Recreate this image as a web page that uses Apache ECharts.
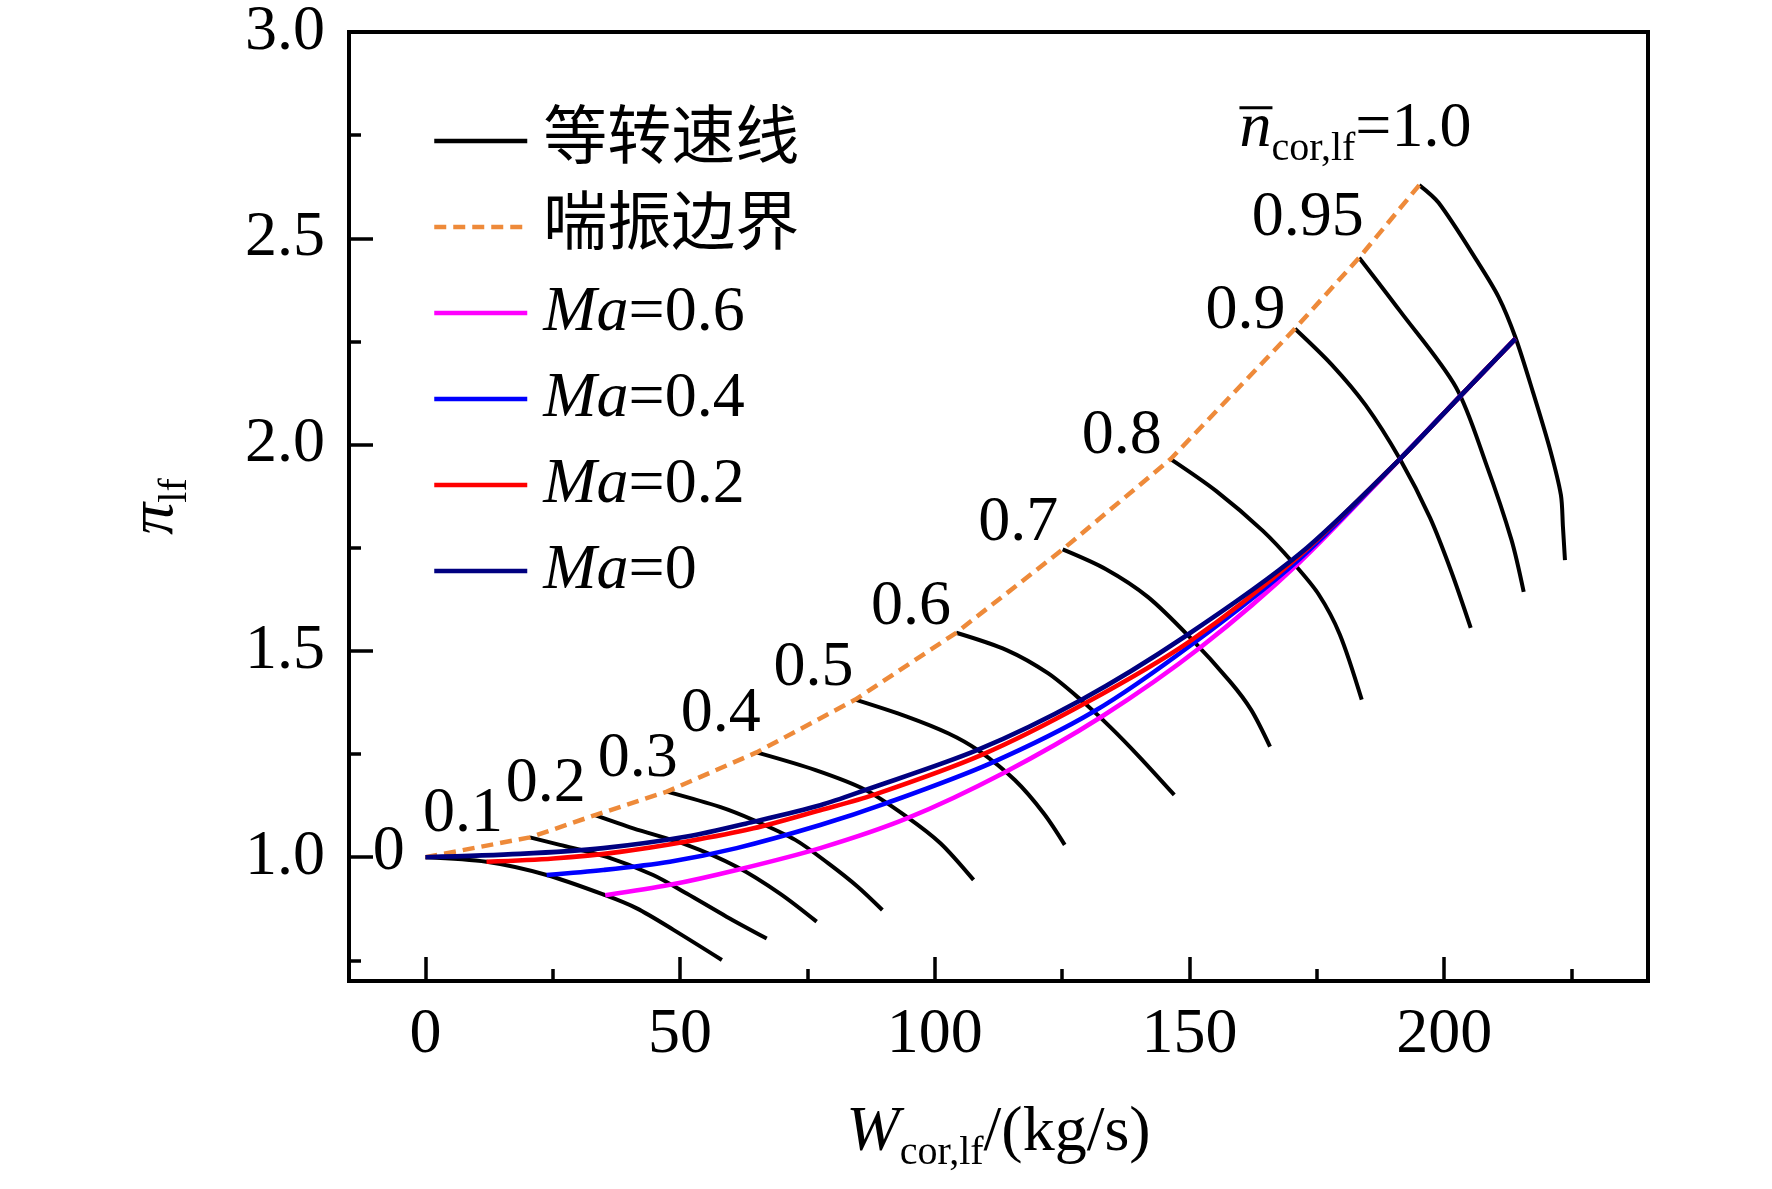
<!DOCTYPE html>
<html>
<head>
<meta charset="utf-8">
<script src="https://cdn.jsdelivr.net/npm/echarts@6/dist/echarts.min.js"></script>
<style>
html, body { margin: 0; padding: 0; background: #fff; }
#main { width: 1772px; height: 1189px; }
</style>
</head>
<body>
<div id="main"></div>
<script>
// corrected speed lines
var speedLevels = ['0', '0.1', '0.2', '0.3', '0.4', '0.5', '0.6', '0.7', '0.8', '0.9', '0.95', '1.0'];
var speedW = [
	[0, 12.0, 23.8, 35.3, 41.5, 48.7, 58.2],
	[20.5, 26.4, 35.6, 44.7, 51.3, 59.1, 67.0],
	[33.3, 40.8, 51.3, 61.1, 69.6, 76.8],
	[47.4, 57.8, 64.4, 72.6, 79.1, 84.8, 89.7],
	[65.0, 76.6, 86.4, 94.5, 101.1, 107.6],
	[84.4, 94.5, 102.7, 108.4, 115.7, 121.4, 125.5],
	[104.2, 114.1, 122.2, 128.7, 134.4, 140.1, 147.0],
	[125.1, 133.6, 141.8, 149.9, 158.0, 162.1, 165.8],
	[146.3, 155.2, 164.4, 170.3, 175.3, 179.5, 183.8],
	[170.7, 177.9, 184.6, 191.3, 197.2, 201.4, 205.2],
	[183.3, 191.3, 202.3, 208.2, 213.2, 215.6],
	[195.1, 198.9, 206.5, 210.7, 214.0, 217.4, 220.8, 222.9, 223.3, 223.7]
];
var speedPi = [
	[1.000, 0.989, 0.957, 0.908, 0.876, 0.824, 0.751],
	[1.048, 1.030, 1.001, 0.957, 0.912, 0.856, 0.803],
	[1.102, 1.070, 1.030, 0.977, 0.912, 0.844],
	[1.159, 1.122, 1.090, 1.042, 0.985, 0.929, 0.872],
	[1.254, 1.211, 1.163, 1.098, 1.034, 0.945],
	[1.382, 1.341, 1.300, 1.260, 1.187, 1.106, 1.030],
	[1.544, 1.502, 1.446, 1.381, 1.316, 1.244, 1.151],
	[1.746, 1.698, 1.631, 1.535, 1.425, 1.357, 1.268],
	[1.965, 1.888, 1.791, 1.714, 1.638, 1.540, 1.382],
	[2.281, 2.194, 2.095, 1.965, 1.823, 1.692, 1.556],
	[2.453, 2.324, 2.139, 1.954, 1.769, 1.643],
	[2.629, 2.586, 2.444, 2.357, 2.259, 2.128, 1.987, 1.878, 1.801, 1.720]
];

// surge boundary
var surgeW = [0, 20.5, 33.3, 47.4, 65.0, 84.4, 104.2, 125.1, 146.3, 170.7, 183.3, 195.1];
var surgePi = [1.000, 1.048, 1.102, 1.159, 1.254, 1.382, 1.544, 1.746, 1.965, 2.281, 2.453, 2.629];

// working lines for each flight Mach number
var ma06W = [35.3, 48.0, 61.1, 77.5, 94.5, 113.3, 132.8, 152.3, 171.7, 191.3, 203.1, 214.0];
var ma06Pi = [0.908, 0.933, 0.969, 1.022, 1.094, 1.203, 1.341, 1.510, 1.716, 1.965, 2.117, 2.257];
var ma04W = [23.8, 34.9, 48.0, 61.1, 77.5, 90.5, 110.8, 131.2, 150.7, 171.7, 191.3, 203.1, 214.0];
var ma04Pi = [0.957, 0.969, 0.989, 1.022, 1.078, 1.131, 1.227, 1.353, 1.518, 1.724, 1.965, 2.117, 2.257];
var ma02W = [12.0, 25.1, 38.2, 51.3, 64.4, 77.5, 88.0, 109.2, 129.5, 149.9, 171.7, 191.3, 203.1, 214.0];
var ma02Pi = [0.989, 0.997, 1.013, 1.038, 1.070, 1.114, 1.151, 1.248, 1.373, 1.522, 1.732, 1.965, 2.117, 2.257];
var ma0W = [0, 18.6, 34.9, 51.3, 64.4, 77.5, 86.4, 108.4, 128.7, 149.1, 171.7, 191.3, 203.1, 214.0];
var ma0Pi = [1.000, 1.008, 1.022, 1.050, 1.086, 1.126, 1.163, 1.260, 1.381, 1.535, 1.736, 1.965, 2.117, 2.257];

// speed labels (text and where they sit, in axis units)
var labelText = ['0', '0.1', '0.2', '0.3', '0.4', '0.5', '0.6', '0.7', '0.8', '0.9', '0.95'];
var labelW = [-7.2, 7.4, 23.6, 41.7, 58.0, 76.2, 95.3, 116.4, 136.7, 161.0, 173.2];
var labelPi = [1.013, 1.105, 1.177, 1.238, 1.347, 1.458, 1.605, 1.810, 2.020, 2.323, 2.548];
var topLabelW = 159.8;
var topLabelPi = 2.820;

var xMajor = [0, 50, 100, 150, 200];
var xMinor = [25, 75, 125, 175, 225];
var yMajor = [1.0, 1.5, 2.0, 2.5, 3.0];
var yMinor = [0.75, 1.25, 1.75, 2.25, 2.75];

var SERIF = 'Liberation Serif';
var MIXED = '"Liberation Serif", "Noto Sans CJK SC"';
var ORANGE = '#ee8a3a';

function zip(w, p) {
	return w.map(function (v, i) { return [v, p[i]]; });
}

var series = [];
for (var k = 0; k < speedW.length; k++) {
	series.push({
		name: '等转速线',
		type: 'line',
		data: zip(speedW[k], speedPi[k]),
		symbol: 'none',
		smooth: 0.3,
		lineStyle: { color: '#000', width: 4 },
		itemStyle: { color: '#000' },
		z: 2
	});
}
series.push({
	name: '喘振边界',
	type: 'line',
	data: zip(surgeW, surgePi),
	symbol: 'none',
	lineStyle: { color: ORANGE, width: 4.5, type: [12, 7] },
	itemStyle: { color: ORANGE },
	z: 3
});
var maLines = [
	['Ma=0.6', ma06W, ma06Pi, '#ff00ff'],
	['Ma=0.4', ma04W, ma04Pi, '#0000ff'],
	['Ma=0.2', ma02W, ma02Pi, '#ff0000'],
	['Ma=0', ma0W, ma0Pi, '#000080']
];
maLines.forEach(function (m, i) {
	series.push({
		name: m[0],
		type: 'line',
		data: zip(m[1], m[2]),
		symbol: 'none',
		smooth: 0.3,
		lineStyle: { color: m[3], width: 4.6 },
		itemStyle: { color: m[3] },
		z: 4 + i
	});
});

// speed value labels
series.push({
	type: 'scatter',
	silent: true,
	symbolSize: 0,
	z: 10,
	itemStyle: { opacity: 1 },
	data: labelW.map(function (w, i) {
		return { value: [w, labelPi[i]], label: { formatter: labelText[i] } };
	}),
	label: {
		show: true, position: 'inside', color: '#000', textBorderWidth: 0, opacity: 1,
		fontFamily: SERIF, fontSize: 64, align: 'center', verticalAlign: 'middle'
	}
});
series.push({
	type: 'scatter',
	silent: true,
	symbolSize: 0,
	z: 10,
	itemStyle: { opacity: 1 },
	data: [[topLabelW, topLabelPi]],
	label: {
		show: true, position: 'inside', align: 'left', verticalAlign: 'top', textBorderWidth: 0, opacity: 1,
		formatter: '{bar| }\n{n|n}{s|cor,lf}{t|=' + speedLevels[speedLevels.length - 1] + '}',
		rich: {
			bar: { width: 33, height: 3, lineHeight: 3, backgroundColor: '#000', fontSize: 3 },
			n: { fontFamily: SERIF, fontStyle: 'italic', fontSize: 64, color: '#000', height: 40, lineHeight: 40, verticalAlign: 'top' },
			s: { fontFamily: SERIF, fontSize: 40, color: '#000', padding: [20, 0, 0, 0], lineHeight: 60, verticalAlign: 'top' },
			t: { fontFamily: SERIF, fontSize: 64, color: '#000', height: 40, lineHeight: 40, verticalAlign: 'top' }
		}
	}
});

var nameRich = {
	i: { fontFamily: SERIF, fontStyle: 'italic', fontSize: 64, color: '#000', lineHeight: 80 },
	s: { fontFamily: SERIF, fontSize: 40, color: '#000', lineHeight: 40, verticalAlign: 'bottom' },
	n: { fontFamily: SERIF, fontSize: 64, color: '#000', lineHeight: 80 }
};

var myChart = echarts.init(document.getElementById('main'));
var option = {
	animation: false,
	backgroundColor: '#fff',
	grid: {
		left: 349, right: 124, top: 32, bottom: 208,
		show: true, borderColor: '#000', borderWidth: 4,
		outerBoundsMode: 'none'
	},
	legend: {
		data: ['等转速线', '喘振边界', 'Ma=0.6', 'Ma=0.4', 'Ma=0.2', 'Ma=0'],
		orient: 'vertical',
		left: 432,
		top: 106,
		padding: 0,
		itemWidth: 93,
		itemHeight: 1,
		itemGap: 16,
		selectedMode: false,
		lineStyle: { width: 4.5 },
		formatter: function (name) {
			return name.indexOf('Ma') === 0 ? '{i|Ma}{r|' + name.slice(2) + '}' : '{c|' + name + '}';
		},
		textStyle: {
			color: '#000',
			fontFamily: MIXED,
			fontSize: 64,
			lineHeight: 70,
			padding: [0, 0, 0, 11],
			rich: {
				i: { fontFamily: SERIF, fontStyle: 'italic', fontSize: 64, lineHeight: 70, color: '#000' },
				r: { fontFamily: SERIF, fontSize: 64, lineHeight: 70, color: '#000' },
				c: { fontFamily: MIXED, fontSize: 64, lineHeight: 70, color: '#000' }
			}
		}
	},
	xAxis: [{
		type: 'value', min: -15, max: 240, position: 'bottom',
		axisLine: { onZero: false, lineStyle: { color: '#000', width: 4 } },
		axisTick: { inside: true, length: 24, customValues: xMajor, lineStyle: { color: '#000', width: 3.5 } },
		axisLabel: { customValues: xMajor, color: '#000', fontFamily: SERIF, fontSize: 64, margin: 22 },
		splitLine: { show: false },
		name: '{i|W}{s|cor,lf}{n|/(kg/s)}',
		nameLocation: 'middle',
		nameGap: 112,
		nameTextStyle: { rich: nameRich }
	}, {
		type: 'value', min: -15, max: 240, position: 'bottom',
		axisLine: { show: false, onZero: false },
		axisTick: { inside: true, length: 12, customValues: xMinor, lineStyle: { color: '#000', width: 3.5 } },
		axisLabel: { show: false },
		splitLine: { show: false }
	}],
	yAxis: [{
		type: 'value', min: 0.7, max: 3.0, position: 'left',
		axisLine: { onZero: false, lineStyle: { color: '#000', width: 4 } },
		axisTick: { inside: true, length: 24, customValues: yMajor, lineStyle: { color: '#000', width: 3.5 } },
		axisLabel: {
			customValues: yMajor, color: '#000', fontFamily: SERIF, fontSize: 64, margin: 24,
			formatter: function (v) { return v.toFixed(1); }
		},
		splitLine: { show: false },
		name: '{i|π}{s|lf}',
		nameLocation: 'middle',
		nameRotate: 90,
		nameGap: 154,
		nameTextStyle: { rich: nameRich }
	}, {
		type: 'value', min: 0.7, max: 3.0, position: 'left',
		axisLine: { show: false, onZero: false },
		axisTick: { inside: true, length: 12, customValues: yMinor, lineStyle: { color: '#000', width: 3.5 } },
		axisLabel: { show: false },
		splitLine: { show: false }
	}],
	series: series
};
myChart.setOption(option);
</script>
</body>
</html>
